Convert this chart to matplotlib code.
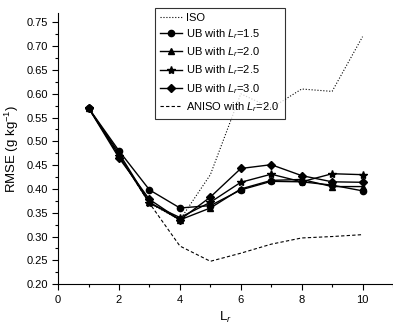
import matplotlib
matplotlib.use('Agg')
import matplotlib.pyplot as plt
from matplotlib.ticker import MultipleLocator

plt.rcParams['font.family'] = ['Liberation Sans', 'DejaVu Sans']
plt.rcParams['mathtext.fontset'] = 'custom'
plt.rcParams['mathtext.rm'] = 'Liberation Sans'
plt.rcParams['mathtext.it'] = 'Liberation Sans:italic'

# 数据
lr = [1, 2, 3, 4, 5, 6, 7, 8, 9, 10]
iso = [0.570, 0.470, 0.370, 0.335, 0.430, 0.600, 0.570, 0.610, 0.605, 0.720]
ub15 = [0.570, 0.480, 0.398, 0.360, 0.365, 0.398, 0.416, 0.415, 0.408, 0.396]
ub20 = [0.570, 0.475, 0.372, 0.335, 0.360, 0.400, 0.418, 0.420, 0.405, 0.405]
ub25 = [0.570, 0.470, 0.370, 0.340, 0.372, 0.414, 0.431, 0.415, 0.432, 0.430]
ub30 = [0.570, 0.465, 0.378, 0.335, 0.383, 0.443, 0.451, 0.428, 0.415, 0.414]
aniso = [0.570, 0.470, 0.370, 0.280, 0.248, 0.265, 0.284, 0.297, 0.300, 0.304]

fig = plt.figure(figsize=(3.93, 3.30), dpi=100)
ax = fig.add_axes([0.148, 0.139, 0.852, 0.822])

ax.plot(lr, iso, color='black', lw=0.8, ls=':', label='ISO')
ax.plot(lr, ub15, color='black', lw=1.0, marker='o', ms=4.5, label=r'UB with $L_r$=1.5')
ax.plot(lr, ub20, color='black', lw=1.0, marker='^', ms=4.5, label=r'UB with $L_r$=2.0')
ax.plot(lr, ub25, color='black', lw=1.0, marker='*', ms=6, label=r'UB with $L_r$=2.5')
ax.plot(lr, ub30, color='black', lw=1.0, marker='D', ms=4, label=r'UB with $L_r$=3.0')
ax.plot(lr, aniso, color='black', lw=0.8, ls=(0, (3, 2)), label=r'ANISO with $L_r$=2.0')

ax.set_xlim(0, 11)
ax.set_ylim(0.2, 0.77)
ax.xaxis.set_major_locator(MultipleLocator(2))
ax.xaxis.set_minor_locator(MultipleLocator(1))
ax.yaxis.set_minor_locator(MultipleLocator(0.025))
ax.set_yticks([0.20 + 0.05 * i for i in range(12)])
ax.set_yticklabels(['%.2f' % (0.20 + 0.05 * i) for i in range(12)])
ax.tick_params(which='major', direction='out', length=4, width=0.8, labelsize=8)
ax.tick_params(which='minor', direction='out', length=2, width=0.8)

ax.spines['top'].set_visible(False)
ax.spines['right'].set_visible(False)

ax.set_xlabel(r'L$_r$', fontsize=9.5)
ax.set_ylabel(r'RMSE (g kg$^{-1}$)', fontsize=9.5)

leg = ax.legend(loc='upper left', bbox_to_anchor=(0.272, 1.04), fontsize=8,
                frameon=True, fancybox=False, edgecolor='black', handlelength=2.0,
                borderpad=0.45, labelspacing=0.4, handletextpad=0.4)
leg.get_frame().set_linewidth(0.8)

plt.savefig('out.png', dpi=100)
